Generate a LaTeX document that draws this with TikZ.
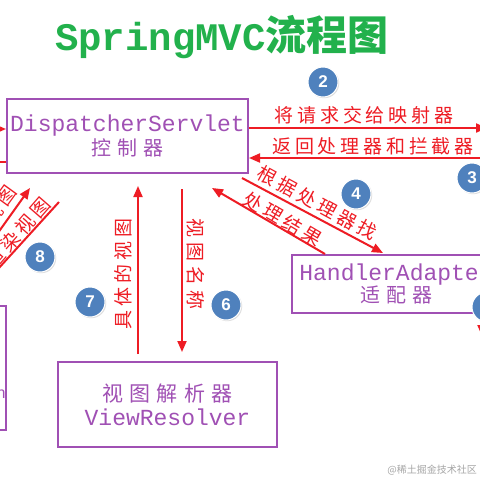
\documentclass[tikz,border=0pt]{standalone}
\usepackage{fontspec}
\setmainfont{Liberation Sans}
\newfontfamily\cjk{Noto Sans CJK SC}
\newfontfamily\cjkbox[LetterSpace=30]{Noto Sans CJK SC}
\newfontfamily\cjklab[LetterSpace=20]{Noto Sans CJK SC}
\newfontfamily\monof{Liberation Mono}
\usetikzlibrary{arrows.meta,calc,shadows}
\definecolor{rd}{RGB}{238,28,36}
\definecolor{pp}{RGB}{160,80,180}
\definecolor{gr}{RGB}{34,177,76}
\definecolor{bl}{RGB}{79,129,189}
\tikzset{
  boxnode/.style={draw=pp, line width=2pt, text=pp, align=center, inner sep=0pt},
  redarrow/.style={draw=rd, line width=2pt, -{Triangle[length=11pt,width=9pt]}},
  redline/.style={draw=rd, line width=2pt},
  lab/.style={text=rd, font=\cjklab\fontsize{19}{20}\selectfont, inner sep=0pt},
  num/.style={circle, fill=bl, draw=white, line width=1pt, minimum size=30pt, inner sep=0pt,
    text=white, font=\bfseries\fontsize{17}{17}\selectfont,
    drop shadow={shadow xshift=1.2pt, shadow yshift=-1.2pt, fill=black!25}},
}
\begin{document}
\begin{tikzpicture}[x=1pt,y=-1pt]
\useasboundingbox (0,0) rectangle (480,480);
\clip (0,0) rectangle (480,480);
\fill[white] (0,0) rectangle (480,480);

% title
\node (title) at (222,37) {\color{gr}\bfseries\monof\fontsize{39}{40}\selectfont SpringMVC\cjk\fontsize{41}{41}\selectfont 流程图};

% boxes
\node[boxnode, minimum width=241pt, minimum height=74pt] (ds) at (127.5,136)
  {{\monof\fontsize{23}{26}\selectfont DispatcherServlet}\\[2pt]{\cjkbox\fontsize{20}{26}\selectfont 控制器}};
\node[boxnode, minimum width=208pt, minimum height=58pt] (ha) at (396,284)
  {{\monof\fontsize{23}{25}\selectfont HandlerAdapter}\\[0pt]{\cjkbox\fontsize{20}{25}\selectfont 适配器}};
\node[boxnode, minimum width=219pt, minimum height=85pt] (vr) at (167.5,404.5)
  {{\cjkbox\fontsize{21}{26}\selectfont 视图解析器}\\[5pt]{\monof\fontsize{23}{26}\selectfont ViewResolver}};
\node[boxnode, minimum width=106pt, minimum height=124pt] (lv) at (-47,368) {};
\node[text=pp, font=\fontsize{16}{16}\selectfont, inner sep=0pt] (lvt) at (1,394) {n};

% left edge connectors
\coordinate (lin) at (-5,129);
\coordinate (lout) at (-5,162);
\draw[redarrow] (lin) -- (lin -| ds.west);
\draw[redline] (lout -| ds.west) -- (lout);

% 2 and 3
\coordinate (r2) at (487,128);
\coordinate (r3) at (495,158);
\draw[redarrow] (r2 -| ds.east) -- (r2);
\draw[redarrow] (r3) -- (r3 -| ds.east);
\node[lab] (l2) at (364,115) {将请求交给映射器};
\node[lab] (l3) at (373,146) {返回处理器和拦截器};

% 4 and result
\coordinate (a4s) at (242,178);
\coordinate (a4e) at (383,253);
\draw[redarrow] (a4s) -- (a4e);
\coordinate (a5s) at ($(ha.north west)+(34,0)$);
\coordinate (a5e) at (212,188);
\draw[redarrow] (a5s) -- (a5e);
\node[lab, rotate=-28.5] (l4) at (317,203) {根据处理器找};
\node[lab, rotate=-30.5] (l5) at (283,219) {处理结果};

% 6 and 7
\coordinate (x6) at (182,0);
\coordinate (x7) at (138,0);
\draw[redarrow, shorten <=15pt, shorten >=9pt] (ds.south -| x6) -- (vr.north -| x6);
\draw[redarrow, shorten <=7pt, shorten >=12pt] (vr.north -| x7) -- (ds.south -| x7);
\node[lab, rotate=-90, font=\cjk\fontsize{19}{20}\selectfont, text=rd] (l6) at (196,264)
  {视\hspace{5pt}图\hspace{5pt}名\hspace{5pt}称};
\node[lab, rotate=90] (l7) at (123,274) {具体的视图};

% 8 area
\coordinate (a8s) at (-10,244);
\coordinate (a8e) at (30,188);
\draw[redarrow] (a8s) -- (a8e);
\coordinate (b8s) at (59,202);
\coordinate (b8e) at (-12,280);
\draw[redline] (b8s) -- (b8e);
\node[lab, rotate=49] (l8) at (18,233) {渲染视图};
\node[lab, rotate=54] (l9) at (0,205) {视图};

% red arrow tip at right edge
\coordinate (p5a) at (482,300);
\coordinate (p5b) at (482,336);
\draw[redarrow] (p5a) -- (p5b);

% numbers
\node[num] (c2) at (323,82) {2};
\node[num] (c3) at (472,178) {3};
\node[num] (c4) at (356,194) {4};
\node[num] (c5) at (487,307) {5};
\node[num] (c6) at (226,305) {6};
\node[num] (c7) at (90,302) {7};
\node[num] (c8) at (40,257) {8};

% watermark
\node[anchor=east, text=black!35, font=\cjk\fontsize{10}{10}\selectfont, inner sep=0pt] (wm) at (477,470) {@稀土掘金技术社区};
\end{tikzpicture}
\end{document}
